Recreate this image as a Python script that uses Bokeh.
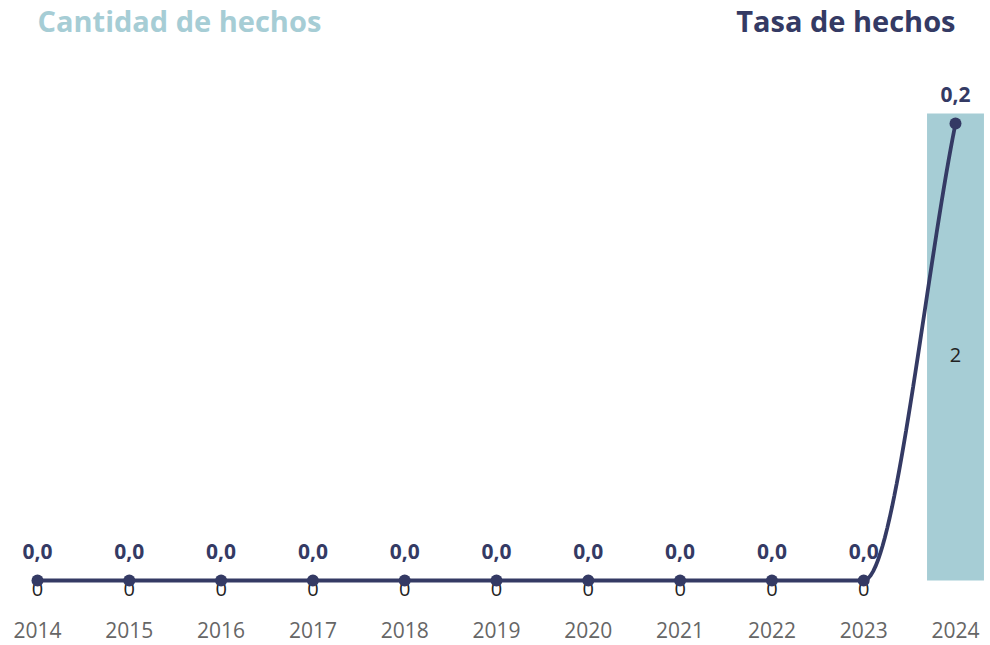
import numpy as np
from bokeh.plotting import figure
from bokeh.models import ColumnDataSource, Range1d
from bokeh.core.properties import value
from bokeh.embed import file_html
from bokeh.resources import INLINE

years = [2014, 2015, 2016, 2017, 2018, 2019, 2020, 2021, 2022, 2023, 2024]
counts = [0, 0, 0, 0, 0, 0, 0, 0, 0, 0, 2]
rates = [0.0, 0.0, 0.0, 0.0, 0.0, 0.0, 0.0, 0.0, 0.0, 0.0, 0.2]
year_labels = [str(y) for y in years]
title_left = "Cantidad de hechos"
title_right = "Tasa de hechos"

BAR = "#a6cdd5"
NAVY = "#343a64"
FONT = "Open Sans"


def monotone(xs, ys, n=40):
    xs = np.asarray(xs, float)
    ys = np.asarray(ys, float)
    d = np.diff(ys) / np.diff(xs)
    m = np.zeros(len(xs))
    m[0] = d[0]
    m[-1] = d[-1]
    for i in range(1, len(xs) - 1):
        if d[i - 1] == 0 or d[i] == 0 or np.sign(d[i - 1]) != np.sign(d[i]):
            m[i] = 0
        else:
            m[i] = (d[i - 1] + d[i]) / 2
    for i in range(len(d)):
        if d[i] == 0:
            m[i] = m[i + 1] = 0
            continue
        a, b = m[i] / d[i], m[i + 1] / d[i]
        s = a * a + b * b
        if s > 9:
            t = 3 / np.sqrt(s)
            m[i], m[i + 1] = t * a * d[i], t * b * d[i]
    ox, oy = [], []
    for i in range(len(d)):
        h = xs[i + 1] - xs[i]
        t = np.linspace(0, 1, n)
        h00 = 2 * t**3 - 3 * t**2 + 1
        h10 = t**3 - 2 * t**2 + t
        h01 = -2 * t**3 + 3 * t**2
        h11 = t**3 - t**2
        yy = h00 * ys[i] + h10 * h * m[i] + h01 * ys[i + 1] + h11 * h * m[i + 1]
        ox.extend(list(xs[i] + t * h))
        oy.extend(list(yy))
    return ox, oy


W, H = 988, 645
# pixel geometry (relative to figure)
px0, step = 37.0, 91.8          # first category centre, spacing
base_y = 580.0                   # rate / bar zero line (from top)
rate_ppu = 457.0 / 0.2
cnt_ppu = 467.0 / 2

x0 = years[0] - px0 / step
x1 = years[0] + (W - px0) / step
r_lo = -(H - base_y) / rate_ppu
r_hi = base_y / rate_ppu
c_lo = -(H - base_y) / cnt_ppu
c_hi = base_y / cnt_ppu

p = figure(width=W, height=H, output_backend="svg", toolbar_location=None,
           x_range=Range1d(x0, x1), y_range=Range1d(r_lo, r_hi),
           min_border=0, outline_line_color=None)
p.extra_y_ranges = {"cnt": Range1d(c_lo, c_hi)}
p.xaxis.visible = False
p.yaxis.visible = False
p.xgrid.visible = False
p.ygrid.visible = False
p.background_fill_color = None
p.border_fill_color = None

src = ColumnDataSource(dict(
    x=years, cnt=counts, mid=[c / 2 for c in counts],
    cnt_txt=[str(c) for c in counts],
    rate=rates, rate_txt=[f"{r:.1f}".replace(".", ",") for r in rates],
    year_txt=year_labels,
    year_y=[-(629 - base_y) / rate_ppu] * len(years),
))

p.vbar(x="x", top="cnt", bottom=0, width=0.62, source=src, y_range_name="cnt",
       fill_color=BAR, line_color=None)

p.text(x="x", y="mid", text="cnt_txt", source=src, y_range_name="cnt",
       text_align="center", text_baseline="middle", y_offset=8,
       text_font=value(FONT), text_font_size="20px", text_color="#222222")

p.text(x="x", y="rate", text="rate_txt", source=src,
       text_align="center", text_baseline="middle", y_offset=-29,
       text_font=value(FONT), text_font_size="21px", text_font_style="bold",
       text_color=NAVY)

lx, ly = monotone(years, rates)
p.line(lx, ly, line_color=NAVY, line_width=3.8)
p.scatter(x="x", y="rate", source=src, size=12, fill_color=NAVY, line_color=None)

p.text(x="x", y="year_y", text="year_txt", source=src,
       text_align="center", text_baseline="middle",
       text_font=value(FONT), text_font_size="21px", text_color="#666666")

ty = (base_y - 20) / rate_ppu
p.text(x=[years[0]], y=[ty], text=[title_left], text_align="left",
       text_baseline="middle", text_font=value(FONT), text_font_size="29px",
       text_font_style="bold", text_color=BAR)
p.text(x=[years[-1]], y=[ty], text=[title_right], text_align="right",
       text_baseline="middle", text_font=value(FONT), text_font_size="29px",
       text_font_style="bold", text_color=NAVY)

open("out.html", "w").write(file_html(p, INLINE))
